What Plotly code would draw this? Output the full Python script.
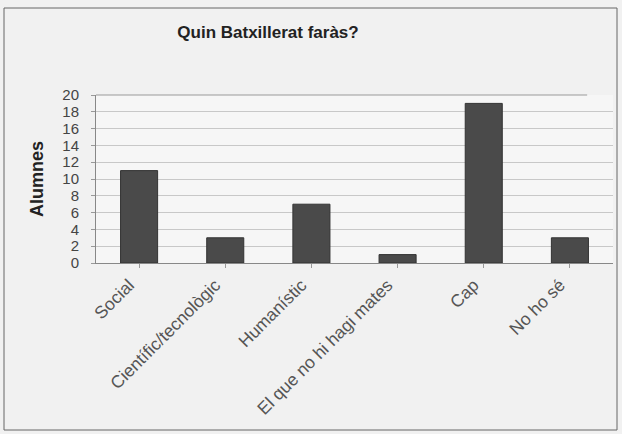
import plotly.graph_objects as go

categories = ["Social", "Científic/tecnològic", "Humanístic", "El que no hi hagi mates", "Cap", "No ho sé"]
values = [11, 3, 7, 1, 19, 3]
y_ticks = list(range(0, 21, 2))

fig = go.Figure(go.Bar(
    x=categories, y=values,
    marker=dict(color="#4a4a4a", line=dict(color="#333333", width=1)),
    width=0.43,
))

L, R, T, B = 96, 9, 95, 171
W, H = 622, 434
pw, ph = W - L - R, H - T - B

fig.update_layout(
    width=W, height=H,
    margin=dict(l=L, r=R, t=T, b=B, autoexpand=False),
    paper_bgcolor="#f1f1f1",
    plot_bgcolor="#f6f6f6",
    font=dict(family="Liberation Sans, Arial, sans-serif", color="#333333"),
    title=dict(text="<b>Quin Batxillerat faràs?</b>", x=(268 - L) / pw, xref="paper", xanchor="center",
               y=1 - 32 / H, yanchor="middle", font=dict(size=17, color="#222222")),
    showlegend=False,
)
fig.update_xaxes(
    automargin=False,
    tickangle=-45, tickfont=dict(size=17.5, color="#555555"),
    ticklabelshift=-10,
    showline=True, linecolor="#888888", linewidth=1,
    ticks="outside", ticklen=4, tickcolor="#999999",
    showgrid=False,
)
fig.update_yaxes(
    automargin=False,
    range=[0, 20], tickvals=y_ticks,
    tickfont=dict(size=15, color="#444444"),
    ticklabelstandoff=9,
    title=dict(text="<b>Alumnes</b>", font=dict(size=18, color="#222222"), standoff=14),
    showline=True, linecolor="#888888", linewidth=1,
    ticks="outside", ticklen=4, tickcolor="#999999",
    showgrid=True, gridcolor="#c8c8c8", gridwidth=1,
    zeroline=False,
)
# top border of plot area
fig.add_shape(type="line", xref="paper", yref="paper", x0=0, x1=0.95, y0=1, y1=1,
              line=dict(color="#999999", width=1))
# outer chart frame
fig.add_shape(type="rect", xref="paper", yref="paper",
              x0=(4 - L) / pw, x1=(617 - L) / pw,
              y0=(H - B - 430) / ph, y1=(H - B - 8) / ph,
              line=dict(color="#666666", width=1), layer="below")

fig.write_html("out.html", config={"displayModeBar": False},
               post_script="document.body.style.margin='0';document.body.style.overflow='hidden';")
